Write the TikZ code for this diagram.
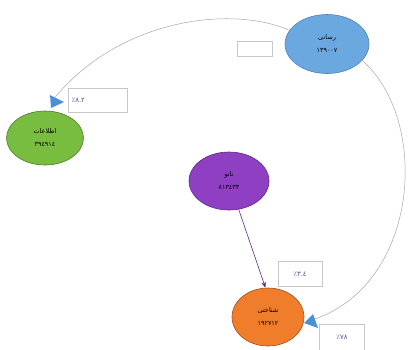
\documentclass[tikz,border=0pt]{standalone}
\usepackage{fontspec}
\usetikzlibrary{shapes.geometric,arrows.meta}
\TeXXeTstate=1
\newfontfamily\arabicfont[Script=Arabic]{DejaVu Sans}
\definecolor{blueF}{HTML}{6CA8E0}
\definecolor{blueD}{HTML}{4F81BD}
\definecolor{greenF}{HTML}{78BC40}
\definecolor{greenD}{HTML}{4E7A2E}
\definecolor{purpF}{HTML}{8E3FC2}
\definecolor{purpD}{HTML}{5E2A85}
\definecolor{orF}{HTML}{EF7D2C}
\definecolor{orD}{HTML}{A0521C}
\definecolor{tri}{HTML}{4A90D9}
\definecolor{lab}{HTML}{5E4E8E}
\definecolor{curve}{HTML}{A8A8A8}
\tikzset{
  ell/.style={ellipse, draw, line width=0.6pt, inner sep=0pt, align=center,
    font=\arabicfont\fontsize{6.5}{13}\selectfont, text=black},
  labbox/.style={draw=black!22, fill=white, line width=0.6pt, inner sep=0pt,
    font=\arabicfont\fontsize{7}{8}\selectfont, text=lab},
  conn/.style={draw=curve, line width=0.5pt},
  tip/.style={fill=tri, draw=none}
}
\begin{document}
\begin{tikzpicture}[x=1pt,y=-1pt]
\useasboundingbox[fill=white] (0,0) rectangle (410,349);
% nodes
\node[ell, fill=blueF, draw=blueD, minimum width=84pt, minimum height=59pt] (blue) at (327,44)
  {{\beginR رسانی\endR}\\۱۳۹۰۰۷};
\node[ell, fill=greenF, draw=greenD, minimum width=77pt, minimum height=54pt] (green) at (45,138)
  {{\beginR اطلاعات\endR}\\۳۹٤۹۱٤};
\node[ell, fill=purpF, draw=purpD, minimum width=80pt, minimum height=58pt] (purple) at (229,181)
  {{\beginR نانو\endR}\\۸۱۳٤۳۳};
\node[ell, fill=orF, draw=orD, minimum width=72pt, minimum height=58pt] (orange) at (268,317)
  {{\beginR شناختی\endR}\\۱۹۲۷۱۲};
% label boxes
\node[labbox, minimum width=59pt, minimum height=24pt, text width=52pt, align=left] (l1) at (97.5,100) {٪۸.۲};
\node[labbox, minimum width=35pt, minimum height=15pt] (l0) at (254.5,48.5) {};
\node[labbox, minimum width=44pt, minimum height=25pt] (l2) at (300,274) {\mbox{٪}\mbox{۳}\mbox{.}\mbox{٤}};
\node[labbox, minimum width=45pt, minimum height=26pt] (l3) at (342,337) {٪۷۸};
% connector ends
\coordinate (e1) at (52,101);
\coordinate (e2) at (315,319);
\draw[conn] (blue.160) .. controls (232,5) and (118,18) .. (e1);
\draw[conn] (blue.-25) .. controls (430,120) and (420,282) .. (e2);
\fill[tip] (50,95) -- (64,102) -- (51,108) -- cycle;
\fill[tip] (304,323) -- (313,314) -- (318,328) -- cycle;
\draw[draw=purpD, line width=0.6pt, -{Stealth[length=6pt,width=4.5pt]}] (purple) -- (orange.95);
\end{tikzpicture}
\end{document}
